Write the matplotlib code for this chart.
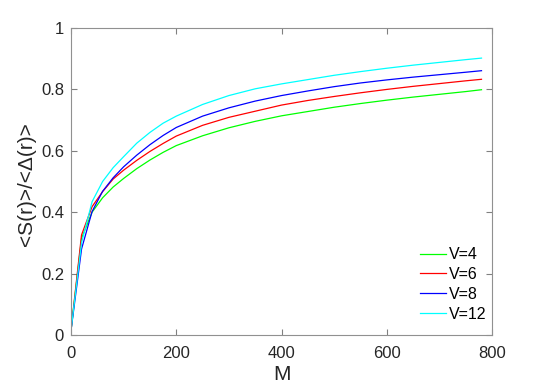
import numpy as np
import matplotlib.pyplot as plt

plt.rcParams['font.family'] = ['Liberation Sans', 'DejaVu Sans']

# M values and ratio <S(r)>/<Delta(r)>
M = [0, 20, 40, 60, 80, 100, 125, 150, 175, 200, 250, 300, 350, 400, 450,
     500, 550, 600, 650, 700, 750, 780]
v4 = [0.015, 0.315, 0.400, 0.447, 0.482, 0.510, 0.542, 0.570, 0.595, 0.617,
      0.649, 0.675, 0.696, 0.714, 0.728, 0.742, 0.754, 0.765, 0.775, 0.784,
      0.793, 0.799]
v6 = [0.015, 0.326, 0.418, 0.467, 0.508, 0.537, 0.569, 0.598, 0.624, 0.648,
      0.683, 0.709, 0.729, 0.749, 0.764, 0.777, 0.789, 0.800, 0.810, 0.819,
      0.828, 0.833]
v8 = [0.015, 0.280, 0.402, 0.468, 0.512, 0.548, 0.586, 0.620, 0.650, 0.676,
      0.713, 0.740, 0.762, 0.780, 0.795, 0.809, 0.821, 0.831, 0.840, 0.848,
      0.856, 0.861]
v12 = [0.015, 0.300, 0.434, 0.500, 0.545, 0.581, 0.625, 0.660, 0.690, 0.713,
       0.751, 0.780, 0.802, 0.818, 0.832, 0.846, 0.858, 0.869, 0.879, 0.888,
       0.897, 0.902]
labels = ["V=4", "V=6", "V=8", "V=12"]
colors = ["#00ff00", "#ff0000", "#0000ff", "#00ffff"]

fig = plt.figure(figsize=(5.45, 3.86), dpi=100)
ax = fig.add_axes([0.1303, 0.1321, 0.7725, 0.7953])

for y, lab, c in zip([v4, v6, v8, v12], labels, colors):
    ax.plot(M, y, color=c, lw=0.9, label=lab)

ax.set_xlim(0, 800)
ax.set_ylim(0, 1)
ax.set_xticks([0, 200, 400, 600, 800])
ax.set_yticks([0, 0.2, 0.4, 0.6, 0.8, 1])
ax.set_yticklabels(["0", "0.2", "0.4", "0.6", "0.8", "1"])
ax.tick_params(direction="in", top=True, right=True, length=4, width=0.8,
               color="#808080", labelsize=12, labelcolor="#262626")
ax.tick_params(axis="x", pad=8)
ax.tick_params(axis="y", pad=5)
for s in ax.spines.values():
    s.set_color("#909090")
    s.set_linewidth(0.8)

ax.set_xlabel("M", fontsize=15, color="#262626", labelpad=3)
ax.set_ylabel("<S(r)>/<Δ(r)>", fontsize=15, color="#262626")
ax.yaxis.set_label_coords(-0.083, 0.49)

leg = ax.legend(loc="lower right", bbox_to_anchor=(1.012, 0.01),
                frameon=False, fontsize=11.5, handlelength=1.6,
                handletextpad=0.2, labelspacing=0.3, borderaxespad=0.25)

fig.savefig("out.png", dpi=100)
